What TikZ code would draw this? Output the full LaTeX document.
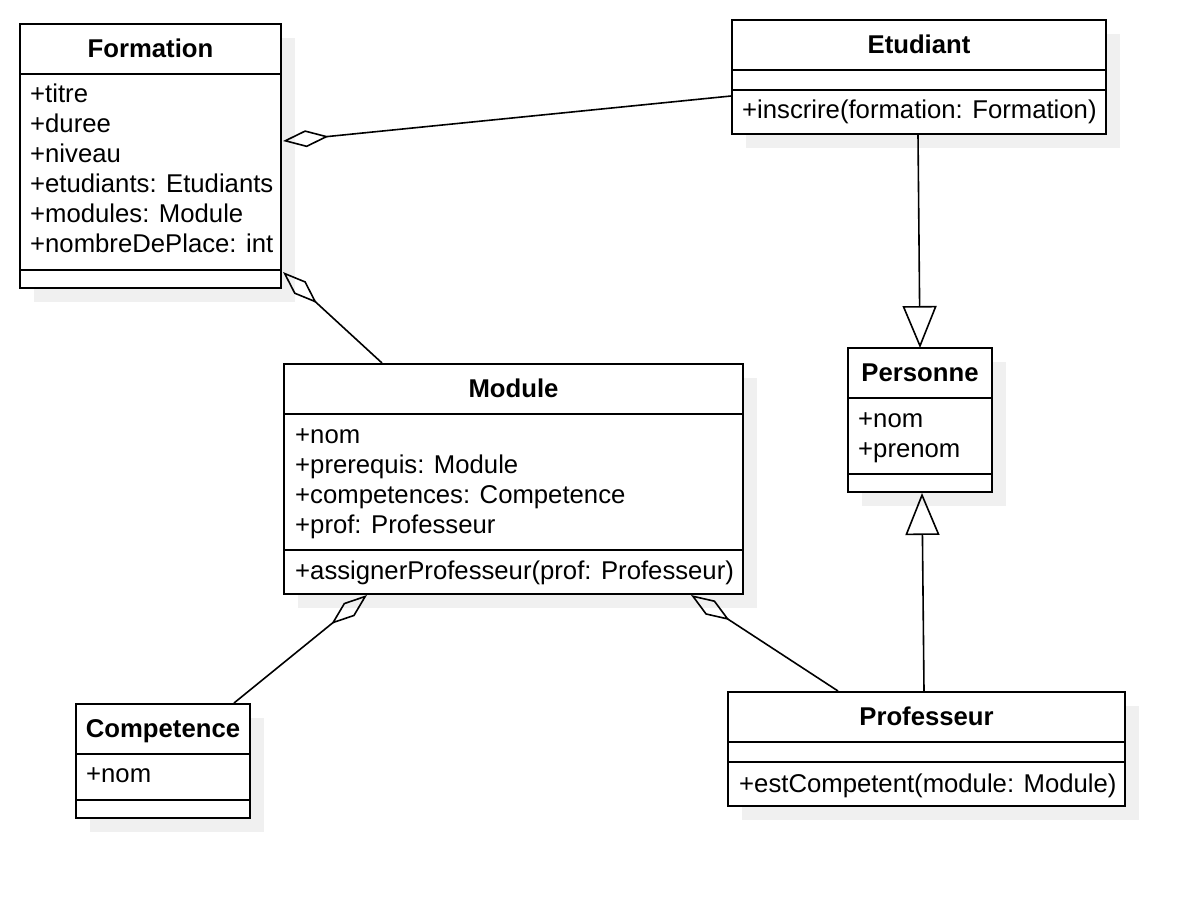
\documentclass[tikz,border=0pt]{standalone}
\usepackage{fontspec}
\setmainfont{Liberation Sans}
\usetikzlibrary{arrows.meta,calc,shadows}
\begin{document}
\begin{tikzpicture}[x=1pt,y=-1pt,
  cls/.style={draw, line width=2pt, fill=white, anchor=north west, inner sep=0pt, outer sep=0pt,
    general shadow={fill=black!6, shadow xshift=14pt, shadow yshift=-14pt}},
  div/.style={line width=2pt},
  ttl/.style={anchor=base, inner sep=0pt, font=\fontsize{25.7}{30}\selectfont\bfseries},
  attr/.style={anchor=base west, inner sep=0pt, font=\fontsize{25.7}{30}\selectfont},
  conn/.style={line width=1.6pt},
  agg/.style={conn, -{Diamond[open, length=46pt, width=17pt, line width=1.6pt]}},
  gen/.style={conn, -{Triangle[open, length=42pt, width=34pt, line width=1.6pt]}}
]
\useasboundingbox[fill=white] (0,0) rectangle (1204,898);

% Formation
\node[cls, minimum width=261pt, minimum height=264pt] (form) at (20,24) {};
\draw[div] ($(form.north west)+(0,50)$) -- ($(form.north east)+(0,50)$);
\draw[div] ($(form.north west)+(0,246)$) -- ($(form.north east)+(0,246)$);
\node[ttl] (formT) at ($(form.north)+(0,33)$) {Formation};
\node[attr] (formA1) at ($(form.north west)+(10,78)$) {+titre};
\node[attr] (formA2) at ($(form.north west)+(10,108)$) {+duree};
\node[attr] (formA3) at ($(form.north west)+(10,138)$) {+niveau};
\node[attr] (formA4) at ($(form.north west)+(10,168)$) {+etudiants: Etudiants};
\node[attr] (formA5) at ($(form.north west)+(10,198)$) {+modules: Module};
\node[attr] (formA6) at ($(form.north west)+(10,228)$) {+nombreDePlace: int};

% Etudiant
\node[cls, minimum width=374pt, minimum height=114pt] (etu) at (732,20) {};
\draw[div] ($(etu.north west)+(0,50)$) -- ($(etu.north east)+(0,50)$);
\draw[div] ($(etu.north west)+(0,70)$) -- ($(etu.north east)+(0,70)$);
\node[ttl] (etuT) at ($(etu.north)+(0,33)$) {Etudiant};
\node[attr] (etuM1) at ($(etu.north west)+(10,98)$) {+inscrire(formation: Formation)};

% Module
\node[cls, minimum width=459pt, minimum height=230pt] (mod) at (284,364) {};
\draw[div] ($(mod.north west)+(0,50)$) -- ($(mod.north east)+(0,50)$);
\draw[div] ($(mod.north west)+(0,186)$) -- ($(mod.north east)+(0,186)$);
\node[ttl] (modT) at ($(mod.north)+(0,33)$) {Module};
\node[attr] (modA1) at ($(mod.north west)+(11,79)$) {+nom};
\node[attr] (modA2) at ($(mod.north west)+(11,109)$) {+prerequis: Module};
\node[attr] (modA3) at ($(mod.north west)+(11,139)$) {+competences: Competence};
\node[attr] (modA4) at ($(mod.north west)+(11,169)$) {+prof: Professeur};
\node[attr] (modM1) at ($(mod.north west)+(11,215)$) {+assignerProfesseur(prof: Professeur)};

% Personne
\node[cls, minimum width=144pt, minimum height=144pt] (pers) at (848,348) {};
\draw[div] ($(pers.north west)+(0,50)$) -- ($(pers.north east)+(0,50)$);
\draw[div] ($(pers.north west)+(0,126)$) -- ($(pers.north east)+(0,126)$);
\node[ttl] (persT) at ($(pers.north)+(0,33)$) {Personne};
\node[attr] (persA1) at ($(pers.north west)+(10,79)$) {+nom};
\node[attr] (persA2) at ($(pers.north west)+(10,109)$) {+prenom};

% Competence
\node[cls, minimum width=174pt, minimum height=114pt] (comp) at (76,704) {};
\draw[div] ($(comp.north west)+(0,50)$) -- ($(comp.north east)+(0,50)$);
\draw[div] ($(comp.north west)+(0,96)$) -- ($(comp.north east)+(0,96)$);
\node[ttl] (compT) at ($(comp.north)+(0,33)$) {Competence};
\node[attr] (compA1) at ($(comp.north west)+(10,78)$) {+nom};

% Professeur
\node[cls, minimum width=397pt, minimum height=114pt] (prof) at (728,692) {};
\draw[div] ($(prof.north west)+(0,50)$) -- ($(prof.north east)+(0,50)$);
\draw[div] ($(prof.north west)+(0,70)$) -- ($(prof.north east)+(0,70)$);
\node[ttl] (profT) at ($(prof.north)+(0,33)$) {Professeur};
\node[attr] (profM1) at ($(prof.north west)+(11,100)$) {+estCompetent(module: Module)};

% Connectors
\draw[agg] ($(etu.north west)+(-1,76)$) -- ($(form.north east)+(2,117)$);
\draw[agg] ($(mod.north west)+(98,-1)$) -- ($(form.south east)+(2,-16)$);
\draw[agg] ($(comp.north west)+(158,-1)$) -- ($(mod.south west)+(83,1)$);
\draw[agg] ($(prof.north west)+(110,-1)$) -- ($(mod.south west)+(407,1)$);
\draw[gen] ($(etu.south west)+(186,1)$) -- (pers.north);
\draw[gen] ($(prof.north west)+(196,-1)$) -- ($(pers.south west)+(74,1)$);
\end{tikzpicture}
\end{document}
